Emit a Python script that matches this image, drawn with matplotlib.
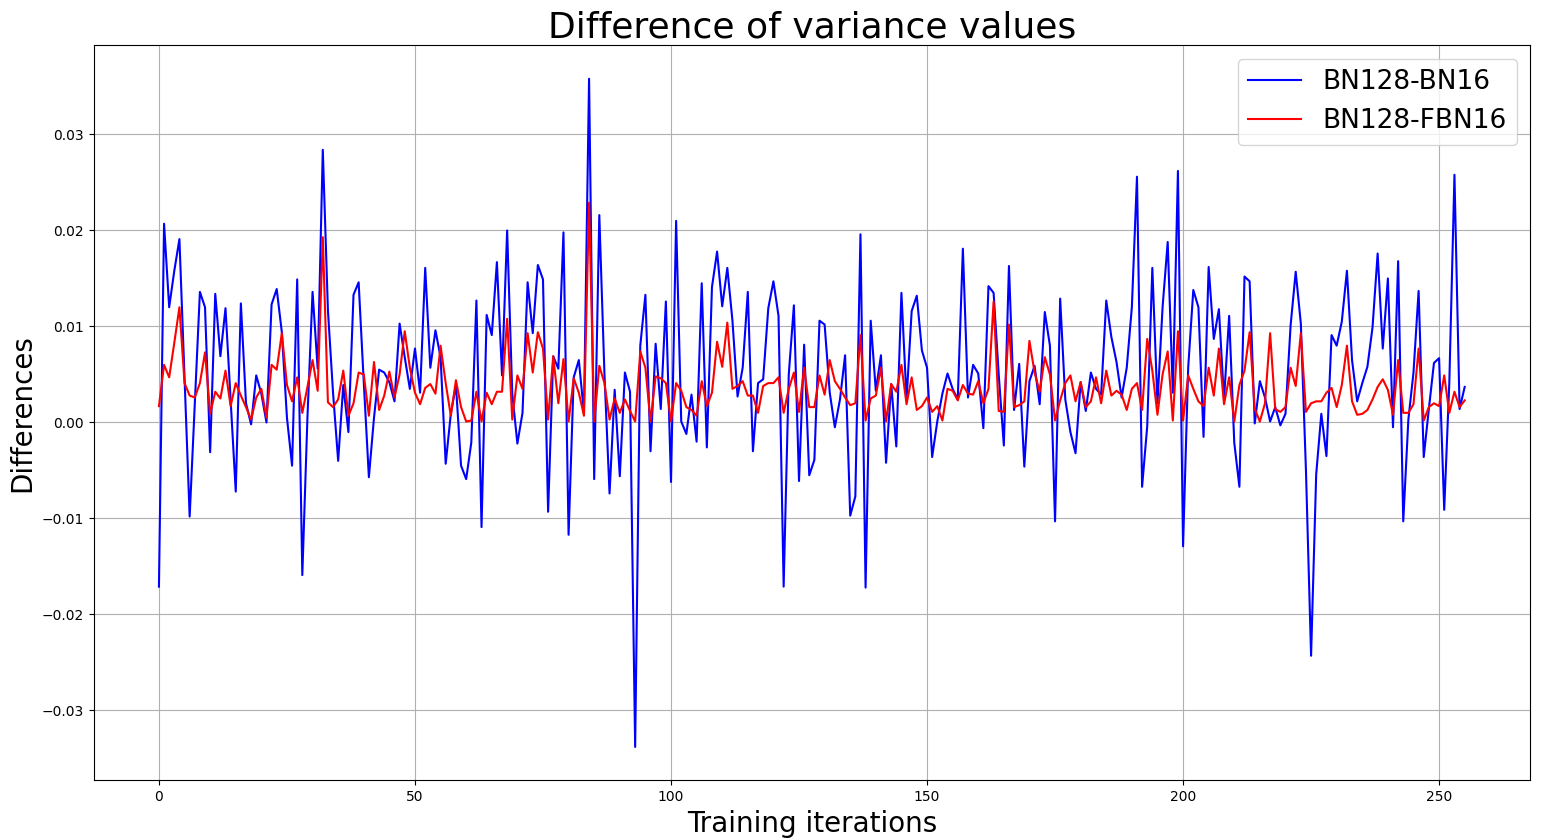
import numpy as np
import matplotlib
matplotlib.use('Agg')
import matplotlib.pyplot as plt

#Datos
bn16=[-0.0171,0.0207,0.0120,0.0158,0.0191,0.0046,-0.0098,0.0020,0.0136,0.0120,
-0.0031,0.0134,0.0069,0.0119,0.0024,-0.0072,0.0124,0.0020,-0.0002,0.0049,
0.0030,0.0000,0.0123,0.0139,0.0094,0.0005,-0.0045,0.0149,-0.0159,0.0005,
0.0136,0.0056,0.0284,0.0117,0.0031,-0.0040,0.0039,-0.0010,0.0133,0.0146,
0.0042,-0.0057,0.0005,0.0055,0.0052,0.0042,0.0022,0.0103,0.0068,0.0035,
0.0077,0.0031,0.0161,0.0057,0.0096,0.0068,-0.0043,0.0009,0.0039,-0.0045,
-0.0059,-0.0021,0.0127,-0.0109,0.0112,0.0091,0.0167,0.0049,0.0200,0.0030,
-0.0022,0.0010,0.0146,0.0093,0.0164,0.0149,-0.0093,0.0069,0.0056,0.0198,
-0.0117,0.0047,0.0065,0.0010,0.0358,-0.0059,0.0216,0.0051,-0.0074,0.0034,
-0.0056,0.0052,0.0032,-0.0338,0.0080,0.0133,-0.0030,0.0082,0.0014,0.0126,
-0.0062,0.0210,0.0001,-0.0012,0.0029,-0.0020,0.0145,-0.0026,0.0141,0.0178,
0.0121,0.0161,0.0106,0.0027,0.0057,0.0136,-0.0030,0.0041,0.0045,0.0119,
0.0147,0.0111,-0.0171,0.0050,0.0122,-0.0061,0.0081,-0.0055,-0.0039,0.0106,
0.0102,0.0031,-0.0005,0.0024,0.0070,-0.0097,-0.0077,0.0196,-0.0172,0.0106,
0.0033,0.0070,-0.0042,0.0040,-0.0025,0.0135,0.0024,0.0116,0.0132,0.0075,
0.0057,-0.0036,0.0001,0.0030,0.0051,0.0035,0.0024,0.0181,0.0026,0.0060,
0.0051,-0.0006,0.0142,0.0135,0.0050,-0.0024,0.0163,0.0013,0.0061,-0.0046,
0.0043,0.0059,0.0019,0.0115,0.0080,-0.0103,0.0129,0.0024,-0.0010,-0.0032,
0.0042,0.0012,0.0052,0.0035,0.0029,0.0127,0.0089,0.0063,0.0026,0.0057,
0.0120,0.0256,-0.0067,-0.0004,0.0161,0.0020,0.0120,0.0188,0.0031,0.0262,
-0.0129,0.0057,0.0138,0.0120,-0.0015,0.0162,0.0087,0.0118,0.0024,0.0111,
-0.0021,-0.0067,0.0152,0.0147,-0.0001,0.0043,0.0026,0.0001,0.0016,-0.0003,
0.0009,0.0101,0.0157,0.0103,-0.0050,-0.0243,-0.0054,0.0009,-0.0035,0.0091,
0.0080,0.0105,0.0158,0.0065,0.0022,0.0041,0.0058,0.0099,0.0176,0.0077,
0.0150,-0.0005,0.0168,-0.0103,0.0003,0.0052,0.0137,-0.0036,0.0014,0.0062,
0.0067,-0.0091,0.0042,0.0258,0.0014,0.0037]

fbn16=[0.0017,0.0060,0.0047,0.0083,0.0120,0.0041,0.0028,0.0026,0.0041,0.0073,
0.0009,0.0032,0.0025,0.0054,0.0017,0.0041,0.0028,0.0016,0.0003,0.0026,
0.0035,0.0005,0.0060,0.0055,0.0093,0.0039,0.0022,0.0047,0.0010,0.0037,
0.0065,0.0033,0.0193,0.0021,0.0016,0.0024,0.0054,0.0007,0.0020,0.0052,
0.0050,0.0007,0.0063,0.0013,0.0028,0.0053,0.0026,0.0050,0.0095,0.0057,
0.0031,0.0019,0.0036,0.0040,0.0030,0.0080,0.0041,0.0007,0.0044,0.0016,
0.0001,0.0002,0.0032,0.0001,0.0031,0.0019,0.0032,0.0032,0.0108,0.0003,
0.0049,0.0035,0.0093,0.0052,0.0094,0.0077,0.0003,0.0069,0.0020,0.0066,
0.0001,0.0046,0.0031,0.0007,0.0229,0.0001,0.0059,0.0041,0.0003,0.0025,
0.0010,0.0024,0.0012,0.0001,0.0074,0.0057,0.0001,0.0048,0.0046,0.0041,
0.0001,0.0041,0.0033,0.0016,0.0013,0.0007,0.0043,0.0017,0.0031,0.0084,
0.0058,0.0104,0.0035,0.0038,0.0043,0.0028,0.0028,0.0010,0.0038,0.0041,
0.0041,0.0047,0.0010,0.0035,0.0052,0.0011,0.0057,0.0016,0.0016,0.0049,
0.0029,0.0065,0.0043,0.0035,0.0026,0.0018,0.0020,0.0091,0.0002,0.0025,
0.0028,0.0057,0.0001,0.0040,0.0032,0.0060,0.0019,0.0047,0.0013,0.0017,
0.0026,0.0011,0.0017,0.0002,0.0035,0.0033,0.0023,0.0039,0.0030,0.0029,
0.0043,0.0020,0.0035,0.0126,0.0012,0.0011,0.0102,0.0016,0.0018,0.0022,
0.0085,0.0052,0.0032,0.0068,0.0050,0.0002,0.0023,0.0041,0.0049,0.0022,
0.0042,0.0016,0.0022,0.0047,0.0020,0.0054,0.0028,0.0033,0.0029,0.0013,
0.0035,0.0041,0.0013,0.0087,0.0054,0.0008,0.0050,0.0074,0.0002,0.0095,
0.0002,0.0049,0.0035,0.0022,0.0017,0.0057,0.0028,0.0077,0.0019,0.0047,
0.0001,0.0039,0.0054,0.0094,0.0014,0.0001,0.0020,0.0093,0.0014,0.0011,
0.0016,0.0057,0.0038,0.0093,0.0011,0.0020,0.0022,0.0022,0.0031,0.0036,
0.0016,0.0039,0.0080,0.0022,0.0008,0.0009,0.0013,0.0024,0.0037,0.0045,
0.0034,0.0008,0.0065,0.0010,0.0010,0.0019,0.0077,0.0002,0.0016,0.0020,
0.0017,0.0049,0.0010,0.0032,0.0016,0.0023]

it=np.arange(len(bn16))

#Grafico de lineas
plt.figure(figsize=(15.66,8.4),dpi=100)
plt.plot(it,bn16,color='blue',linewidth=1.5,label='BN128-BN16')
plt.plot(it,fbn16,color='red',linewidth=1.5,label='BN128-FBN16')
plt.title('Difference of variance values',fontsize=26)
plt.xlabel('Training iterations',fontsize=20)
plt.ylabel('Differences',fontsize=20)
plt.legend(fontsize=19,loc='upper right')
plt.grid()
plt.subplots_adjust(left=0.0598,right=0.977,top=0.946,bottom=0.071)
plt.savefig('out.png')
